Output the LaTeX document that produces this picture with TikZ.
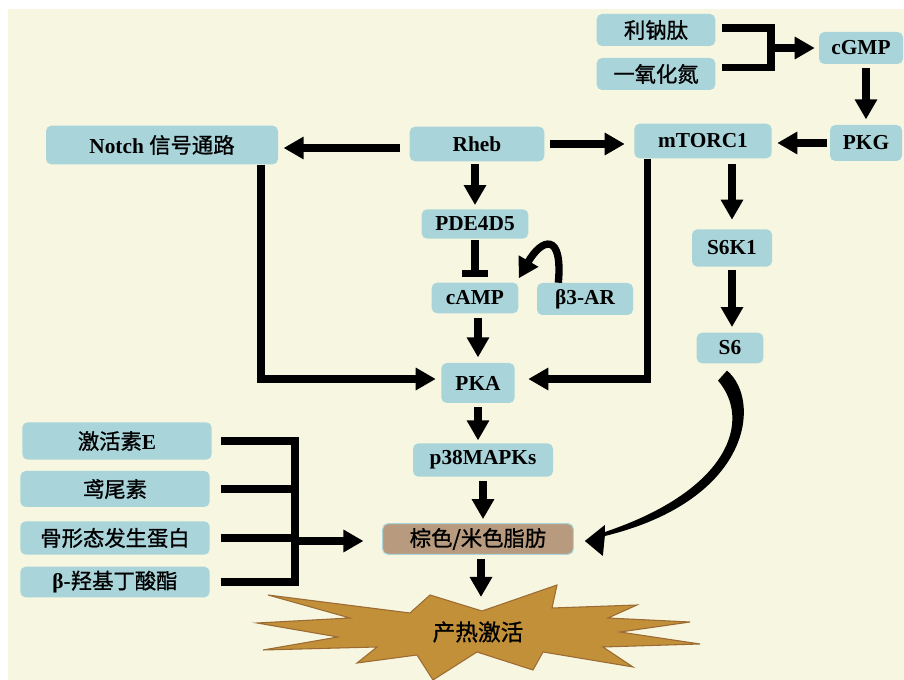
\documentclass[tikz,border=0pt]{standalone}
\usepackage{fontspec}
\setmainfont{Liberation Serif}
\newfontfamily\cjk{Noto Sans CJK SC}[FakeBold=1]
\usetikzlibrary{arrows.meta,calc}
\definecolor{bgyel}{HTML}{F7F7E1}
\definecolor{boxblue}{HTML}{A9D4DA}
\definecolor{fatbrown}{HTML}{B89B7F}
\definecolor{stargold}{HTML}{C3903A}
\definecolor{staredge}{HTML}{9B6B33}
\begin{document}
\begin{tikzpicture}[x=0.75pt,y=-0.75pt]
  \tikzstyle{every node}=[font=\fontsize{16}{18}\selectfont\bfseries]
  \tikzstyle{box}=[fill=boxblue,rounded corners=4pt,inner sep=0pt]
  \tikzstyle{link}=[line width=5.5pt,-{Triangle[length=15pt,width=16pt]}]
  \tikzstyle{bare}=[line width=5.5pt]
  \useasboundingbox (0,0) rectangle (904,680);
  \fill [white] (0,0) rectangle (904,680);
  \fill [bgyel] (8,9) rectangle (904,680);
  \node [box,minimum width=89pt,minimum height=24pt] (lnt) at (656,30) {\cjk\mdseries 利钠肽};
  \node [box,minimum width=89pt,minimum height=24pt] (no) at (656,74) {\cjk\mdseries 一氧化氮};
  \node [box,minimum width=63pt,minimum height=24pt] (cgmp) at (861,48) {cGMP};
  \node [box,minimum width=54pt,minimum height=27pt] (pkg) at (866,143) {PKG};
  \node [box,minimum width=103pt,minimum height=26pt] (mtorc) at (703,141) {mTORC1};
  \node [box,minimum width=101pt,minimum height=26pt] (rheb) at (477,144) {Rheb};
  \node [box,minimum width=174pt,minimum height=29pt] (notch) at (162,145) {Notch {\cjk\mdseries 信号通路}};
  \node [box,minimum width=80pt,minimum height=22pt] (pde) at (475,224) {PDE4D5};
  \node [box,minimum width=65pt,minimum height=23pt] (camp) at (475,298) {cAMP};
  \node [box,minimum width=72pt,minimum height=24pt] (b3) at (585,299) {β3-AR};
  \node [box,minimum width=55pt,minimum height=30pt] (pka) at (478,383) {PKA};
  \node [box,minimum width=105pt,minimum height=25pt] (p38) at (483,460) {p38MAPKs};
  \node [box,minimum width=60pt,minimum height=28pt] (s6k) at (732,248) {S6K1};
  \node [box,minimum width=50pt,minimum height=23pt] (s6) at (730,348) {S6};
  \node [box,fill=fatbrown,draw=boxblue,line width=0.8pt,minimum width=143pt,minimum height=23pt] (fat) at (478,539) {\cjk\mdseries 棕色/米色脂肪};
  \node [box,minimum width=142pt,minimum height=28pt] (k1) at (117,441) {{\cjk\mdseries 激活素}E};
  \node [box,minimum width=142pt,minimum height=27pt] (k2) at (115,489) {\cjk\mdseries 鸢尾素};
  \node [box,minimum width=142pt,minimum height=25pt] (k3) at (115,538) {\cjk\mdseries 骨形态发生蛋白};
  \node [box,minimum width=142pt,minimum height=23pt] (k4) at (115,582) {β-{\cjk\mdseries 羟基丁酸酯}};
  \filldraw [fill=stargold,draw=staredge,line width=0.8pt]
    (268,595) -- (410,613) -- (430,595) -- (482,611) -- (557,585) -- (552,608)
    -- (637,605) -- (608,618) -- (690,622) -- (620,632) -- (700,644) -- (603,647)
    -- (633,667) -- (543,652) -- (533,670) -- (477,652) -- (433,680) -- (417,655)
    -- (357,663) -- (377,647) -- (263,650) -- (338,637) -- (257,623) -- (350,618) -- cycle;
  \node (heat) at (478,632) {\fontsize{17}{19}\selectfont\cjk\mdseries 产热激活};
  \coordinate (j0) at (771,48);
  \coordinate (j1) at (295,541);
  \coordinate (st) at (481,597);
  \draw [bare] ([xshift=5pt,yshift=1.5pt]lnt.east) -| (j0);
  \draw [bare] ([xshift=5pt,yshift=5pt]no.east) -| (j0);
  \draw [link,shorten >=3pt] (j0) -- (cgmp.west);
  \draw [link,shorten <=3pt,shorten >=4pt] (pkg.north |- cgmp.south) -- (pkg.north);
  \draw [link,shorten <=2pt,shorten >=4pt] (pkg.west) -- (mtorc.east |- pkg.west);
  \draw [link,shorten <=4pt,shorten >=7pt] (rheb.east) -- (mtorc.west |- rheb.east);
  \draw [link,shorten <=7pt,shorten >=4pt] ([yshift=-3pt]rheb.west) -- ([yshift=-3pt]rheb.west -| notch.east);
  \draw [link,shorten <=2pt,shorten >=3pt] (pde.north |- rheb.south) -- (pde.north);
  \draw [bare,-{Bar[width=20pt]},shorten <=1pt,shorten >=4pt] (pde.south) -- (camp.north);
  \draw [link] ([xshift=-20pt]b3.north) .. controls (563,232) and (542,238) .. ([yshift=3pt]camp.north east);
  \draw [link,shorten <=3pt,shorten >=4pt] (pka.north |- camp.south) -- (pka.north);
  \draw [link,shorten >=4pt] ([xshift=-13pt]notch.south east) |- ([yshift=3pt]pka.west);
  \draw [link,shorten >=10pt] ([xshift=10pt]mtorc.south west) |- ([yshift=3pt]pka.east);
  \draw [link,shorten <=3pt,shorten >=2pt] (pka.south) -- (pka.south |- p38.north);
  \draw [link,shorten <=3pt,shorten >=3pt] (p38.south) -- (p38.south |- fat.north);
  \draw [link,shorten <=3pt] (fat.south -| st) -- (st);
  \draw [link,shorten <=4pt,shorten >=7pt] (s6k.north |- mtorc.south) -- (s6k.north);
  \draw [link,shorten <=2pt,shorten >=4pt] (s6k.south) -- (s6k.south |- s6.north);
  \fill ($(s6.south)+(-3,7)$) .. controls (762,400) and (752,500) .. ($(fat.east)+(31,-3)$)
    -- ($(fat.east)+(29,17)$) -- ($(fat.east)+(11,2)$) -- ($(fat.east)+(31,-14)$)
    -- ($(fat.east)+(31,-7)$) .. controls (730,490) and (752,420) .. ($(s6.south)+(-12,17)$) -- cycle;
  \draw [bare] ([xshift=7pt]k1.east) -| (j1);
  \draw [bare] ([xshift=8pt]k2.east) -| (j1);
  \draw [bare] ([xshift=8pt]k3.east) -| (j1);
  \draw [bare] ([xshift=8pt]k4.east) -| (j1);
  \draw [link,shorten >=14pt] (j1) -- (fat.west |- j1);
\end{tikzpicture}
\end{document}
